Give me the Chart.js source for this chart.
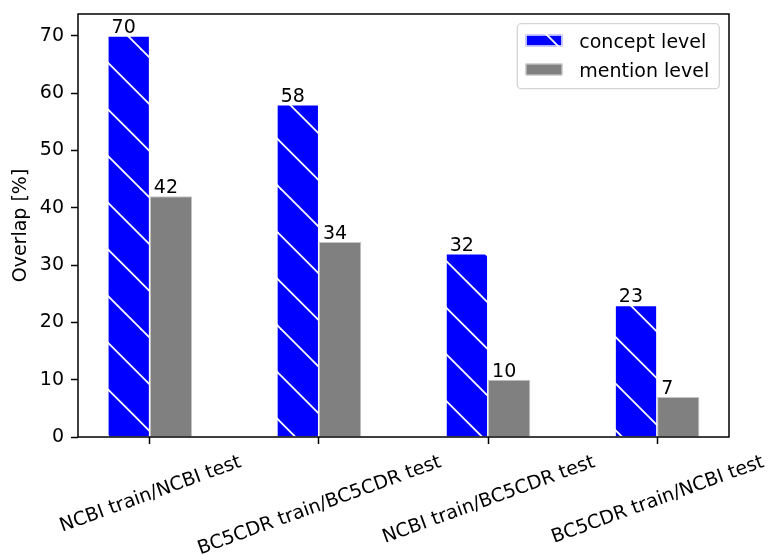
<!DOCTYPE html>
<html>
<head>
<meta charset="utf-8">
<script src="https://cdn.jsdelivr.net/npm/chart.js@4.4.1/dist/chart.umd.min.js"></script>
<style>
  html, body { margin: 0; padding: 0; background: #ffffff; }
  #wrap { width: 769px; height: 555px; }
</style>
</head>
<body>
<div id="wrap"><canvas id="c" width="769" height="555"></canvas></div>
<script>
// Train/test corpus pairs and their overlap percentages
const categories = [
  'NCBI train/NCBI test',
  'BC5CDR train/BC5CDR test',
  'NCBI train/BC5CDR test',
  'BC5CDR train/NCBI test'
];
const seriesNames = ['concept level', 'mention level'];
const conceptLevel = [70, 58, 32, 23];
const mentionLevel = [42, 34, 10, 7];
const yTicks = [0, 10, 20, 30, 40, 50, 60, 70];
const yTitle = 'Overlap [%]';

const FONT = "'DejaVu Sans', sans-serif";
const FS = 19;

const canvas = document.getElementById('c');
const ctx0 = canvas.getContext('2d');

// Diagonal "\" hatch: white lines on blue, anchored to the canvas origin
function hatchPattern(base, line) {
  const size = 140, period = size / 3, phase = 1.4;
  const tile = document.createElement('canvas');
  tile.width = size; tile.height = size;
  const g = tile.getContext('2d');
  g.fillStyle = base;
  g.fillRect(0, 0, size, size);
  g.strokeStyle = line;
  g.lineWidth = 1.8;
  for (let k = -4; k <= 4; k++) {
    const c = phase + k * period;
    g.beginPath();
    g.moveTo(-20, -20 + c);
    g.lineTo(size + 20, size + 20 + c);
    g.stroke();
  }
  return ctx0.createPattern(tile, 'repeat');
}
const bluePattern = hatchPattern('#0000ff', '#ffffff');

// Value labels, axes frame and rotated category labels
const annotate = {
  id: 'annotate',
  afterDatasetsDraw(chart) {
    const { ctx, chartArea: a, scales: { x } } = chart;
    ctx.save();
    ctx.font = `${FS}px ${FONT}`;
    ctx.fillStyle = '#000';
    ctx.textAlign = 'left';
    ctx.textBaseline = 'alphabetic';
    chart.data.datasets.forEach((ds, di) => {
      chart.getDatasetMeta(di).data.forEach((bar, i) => {
        const v = ds.data[i].y;
        ctx.fillText(String(v), bar.x - bar.width / 2 + 4, bar.y - 3);
      });
    });

    ctx.strokeStyle = '#000';
    ctx.lineWidth = 1.5;
    ctx.strokeRect(a.left, a.top, a.right - a.left, a.bottom - a.top);

    const ang = 20 * Math.PI / 180;
    const capH = 0.73 * FS;
    const top = a.bottom + 16.3;
    ctx.textAlign = 'center';
    categories.forEach((t, i) => {
      const cx = x.getPixelForValue(i);
      const w = ctx.measureText(t).width;
      const H = w * Math.sin(ang) + capH * Math.cos(ang);
      const cy = top + H / 2;
      ctx.save();
      ctx.translate(cx, cy);
      ctx.rotate(-ang);
      ctx.fillText(t, 0, capH / 2);
      ctx.restore();
    });
    ctx.restore();
  }
};

// Framed legend in the upper right of the plot area
const legendBox = {
  id: 'legendBox',
  afterDraw(chart) {
    const { ctx, chartArea: a } = chart;
    const w = 202, h = 65, r = 4;
    const L = a.right - 9.7 - w, T = a.top + 9.7;
    ctx.save();
    ctx.beginPath();
    ctx.moveTo(L + r, T);
    ctx.lineTo(L + w - r, T);
    ctx.arcTo(L + w, T, L + w, T + r, r);
    ctx.lineTo(L + w, T + h - r);
    ctx.arcTo(L + w, T + h, L + w - r, T + h, r);
    ctx.lineTo(L + r, T + h);
    ctx.arcTo(L, T + h, L, T + h - r, r);
    ctx.lineTo(L, T + r);
    ctx.arcTo(L, T, L + r, T, r);
    ctx.closePath();
    ctx.fillStyle = 'rgba(255,255,255,0.8)';
    ctx.fill();
    ctx.strokeStyle = '#d4d4d4';
    ctx.lineWidth = 1.3;
    ctx.stroke();

    ctx.font = `${FS}px ${FONT}`;
    ctx.textAlign = 'left';
    ctx.textBaseline = 'alphabetic';
    chart.data.datasets.forEach((ds, i) => {
      const cy = T + 16.8 + i * 29;
      const px = L + 8.4, pw = 36.6, ph = 11.6;
      ctx.fillStyle = ds.backgroundColor;
      ctx.fillRect(px, cy - ph / 2, pw, ph);
      ctx.strokeStyle = ds.borderColor;
      ctx.lineWidth = 1;
      ctx.strokeRect(px + 0.5, cy - ph / 2 + 0.5, pw - 1, ph - 1);
      ctx.fillStyle = '#000';
      ctx.fillText(ds.label, L + 62, cy + 7);
    });
    ctx.restore();
  }
};

Chart.defaults.font.family = FONT;
Chart.defaults.font.size = FS;
Chart.defaults.color = '#000';

new Chart(canvas, {
  type: 'bar',
  data: {
    datasets: [
      {
        label: seriesNames[0],
        data: conceptLevel.map((v, i) => ({ x: i, y: v })),
        backgroundColor: bluePattern,
        borderColor: '#ffffff',
        borderWidth: 1,
        categoryPercentage: 0.5,
        barPercentage: 1
      },
      {
        label: seriesNames[1],
        data: mentionLevel.map((v, i) => ({ x: i, y: v })),
        backgroundColor: '#808080',
        borderColor: '#c4c4c4',
        borderWidth: 1,
        categoryPercentage: 0.5,
        barPercentage: 1
      }
    ]
  },
  options: {
    responsive: false,
    animation: false,
    events: [],
    layout: { padding: { top: 14, right: 40, left: 0, bottom: 0 } },
    plugins: {
      legend: { display: false },
      tooltip: { enabled: false }
    },
    scales: {
      x: {
        type: 'linear',
        min: -0.425,
        max: 3.425,
        offset: false,
        afterBuildTicks: s => { s.ticks = categories.map((_, i) => ({ value: i })); },
        afterFit: s => { s.height = 118; s.paddingLeft = 0; s.paddingRight = 0; },
        grid: { offset: false, drawOnChartArea: false, drawTicks: true, tickLength: 7, tickWidth: 1.5, tickColor: '#000' },
        border: { display: false },
        ticks: { display: false }
      },
      y: {
        min: 0,
        max: 73.8,
        afterBuildTicks: s => { s.ticks = yTicks.map(v => ({ value: v })); },
        afterFit: s => { s.width = 78; s.paddingTop = 0; s.paddingBottom = 0; },
        grid: { drawOnChartArea: false, drawTicks: true, tickLength: 7, tickWidth: 1.5, tickColor: '#000' },
        border: { display: false },
        ticks: { padding: 7, color: '#000', font: { size: FS, family: FONT } },
        title: {
          display: true,
          text: yTitle,
          color: '#000',
          font: { size: FS, family: FONT },
          padding: { top: 9.6, bottom: 0 }
        }
      }
    }
  },
  plugins: [annotate, legendBox]
});
</script>
</body>
</html>
